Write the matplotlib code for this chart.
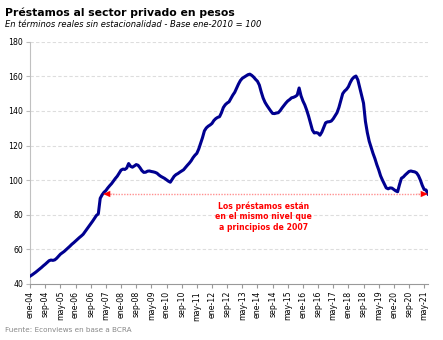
import numpy as np
import matplotlib.pyplot as plt

# Prestamos al sector privado en pesos, indice real (ene-2010 = 100), mensual ene-04 a jul-21
prestamos = [
    # 2004
    44.5, 45.2, 46.0, 46.8, 47.7, 48.6, 49.5, 50.5, 51.4, 52.4, 53.4, 53.8,
    # 2005
    53.6, 53.9, 54.8, 56.0, 57.2, 58.0, 58.8, 59.8, 60.8, 61.8, 62.9, 63.8,
    # 2006
    64.8, 65.8, 66.8, 67.7, 68.7, 70.2, 71.8, 73.3, 74.8, 76.3, 78.0, 79.6,
    # 2007
    80.5, 89.5, 91.5, 93.0, 94.0, 95.5, 96.8, 98.0, 99.5, 101.0, 102.3, 104.0,
    # 2008
    105.8, 106.4, 106.2, 107.0, 109.6, 108.0, 107.5, 108.2, 109.0, 108.6, 107.2, 105.5,
    # 2009
    104.5, 104.6, 105.2, 105.3, 105.0, 104.8, 104.5, 104.0, 103.0, 102.2, 101.6, 101.0,
    # 2010
    100.2, 99.4, 98.8, 100.5, 102.2, 103.2, 103.8, 104.6, 105.3, 106.0, 107.3, 108.6,
    # 2011
    109.8, 111.2, 113.0, 114.4, 115.5, 118.0, 121.3, 124.6, 128.5, 130.2, 131.2, 131.9,
    # 2012
    132.8, 134.5, 135.6, 136.3, 136.7, 139.0, 142.0, 143.6, 144.6, 145.3, 147.2, 149.2,
    # 2013
    150.8, 153.2, 155.6, 157.6, 158.9, 159.6, 160.3, 161.0, 161.3, 160.6, 159.6, 158.3,
    # 2014
    157.2, 155.0, 151.0, 147.5, 145.0, 143.2, 141.6, 140.0, 138.6, 138.5, 138.8, 139.0,
    # 2015
    140.2, 141.8, 143.2, 144.6, 145.8, 146.6, 147.6, 147.9, 148.4, 149.2, 153.3, 148.8,
    # 2016
    145.8, 143.5, 140.5, 137.0, 133.0, 129.0, 127.3, 127.5, 127.2, 126.0, 127.8, 130.5,
    # 2017
    133.2, 133.7, 133.8, 134.2, 135.5, 137.2, 139.0, 142.0, 146.0, 150.0, 151.5, 152.5,
    # 2018
    154.0, 156.5, 158.5, 159.6, 160.2, 158.0, 153.5, 149.0, 144.5, 134.0, 127.5, 122.5,
    # 2019
    119.0, 115.5, 112.5, 109.0, 106.0, 102.5, 100.0, 97.8, 95.5, 95.0, 95.5, 95.4,
    # 2020
    94.6, 93.8, 93.3, 97.5, 101.1, 101.8, 103.0, 104.0, 105.0, 105.3, 105.0, 104.8,
    # 2021
    104.2, 102.6, 100.1, 97.0, 94.6, 94.3, 92.0,
]

meses = ['ene', 'feb', 'mar', 'abr', 'may', 'jun', 'jul', 'ago', 'sep', 'oct', 'nov', 'dic']
etiquetas = [f'{meses[i % 12]}-{(4 + i // 12):02d}' for i in range(len(prestamos))]

x = np.arange(len(prestamos))
nivel = prestamos[-1]
inicio_flecha = 38.5  # mes en que la serie cruza el nivel actual (principios de 2007)

fig = plt.figure(figsize=(4.43, 3.40), dpi=100)
ax = fig.add_axes([0.068, 0.165, 0.898, 0.712])

ax.plot(x, prestamos, color='#000090', lw=2.2, solid_joinstyle='round', zorder=3)

# flecha punteada: nivel actual vs 2007
ax.plot([inicio_flecha + 2, len(prestamos) - 3], [nivel, nivel], color='#ff9090',
        lw=1.0, ls=(0, (1, 1)), zorder=2)
ax.annotate('', xy=(inicio_flecha, nivel), xytext=(inicio_flecha + 6, nivel),
            arrowprops=dict(arrowstyle='-|>,head_length=0.5,head_width=0.22',
                            color='red', lw=0.1, shrinkA=0, shrinkB=0))
ax.annotate('', xy=(len(prestamos) - 1, nivel), xytext=(len(prestamos) - 7, nivel),
            arrowprops=dict(arrowstyle='-|>,head_length=0.5,head_width=0.22',
                            color='red', lw=0.1, shrinkA=0, shrinkB=0))
ax.text(123, nivel - 4.2, 'Los préstamos están\nen el mismo nivel que\na principios de 2007',
        color='red', fontsize=5.6, fontweight='bold', ha='center', va='top',
        linespacing=1.25)

ax.set_xlim(0, len(prestamos) - 1)
ax.set_ylim(40, 180)
ax.set_yticks(range(40, 181, 20))
ax.set_xticks(x[::8])
ax.set_xticklabels(etiquetas[::8], rotation=90, fontsize=5.6)
ax.tick_params(axis='y', labelsize=5.6, length=3, color='#bbbbbb', pad=2)
ax.tick_params(axis='x', length=3, color='#999999', pad=2)

for v in range(60, 181, 20):
    ax.axhline(v, color='#dddddd', lw=0.8, ls=(0, (3, 2)), zorder=1)

ax.spines['top'].set_visible(False)
ax.spines['right'].set_visible(False)
ax.spines['left'].set_color('#c0c0c0')
ax.spines['bottom'].set_color('#999999')

fig.text(0.011, 0.963, 'Préstamos al sector privado en pesos', fontsize=7.8,
         fontweight='bold', ha='left', va='center')
fig.text(0.011, 0.927, 'En términos reales sin estacionalidad - Base ene-2010 = 100',
         fontsize=6.0, style='italic', ha='left', va='center')
fig.text(0.011, 0.028, 'Fuente: Econviews en base a BCRA', fontsize=5.2,
         color='#888888', ha='left', va='center')

fig.savefig('out.png', dpi=100)
